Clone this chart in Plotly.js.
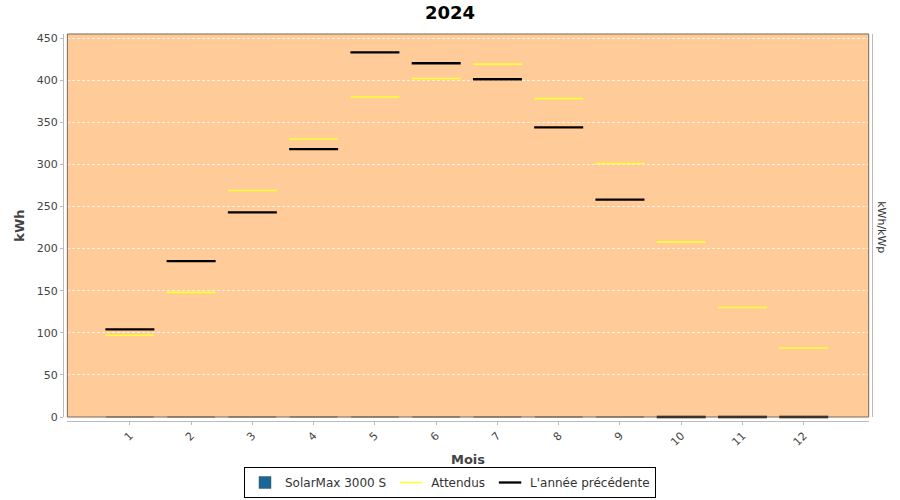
<!DOCTYPE html>
<html>
<head>
<meta charset="utf-8">
<script src="https://cdn.plot.ly/plotly-3.0.1.min.js"></script>
<style>html,body{margin:0;padding:0;background:#fff;}#chart{width:900px;height:500px;}</style>
</head>
<body>
<div id="chart"></div>
<script>
// ---- data ----
const months = [1, 2, 3, 4, 5, 6, 7, 8, 9, 10, 11, 12];
const monthLabels = ["1", "2", "3", "4", "5", "6", "7", "8", "9", "10", "11", "12"];
const solarMax = [0, 0, 0, 0, 0, 0, 0, 0, 0, 0, 0, 0];
const attendus = [97, 148, 269, 330, 380, 402, 419, 378, 301, 208, 130, 82];
const anneePrecedente = [104, 185, 243, 318, 433, 420, 401, 344, 258, 0, 0, 0];
const yTicks = [0, 50, 100, 150, 200, 250, 300, 350, 400, 450];

const font = "DejaVu Sans, sans-serif";

const traces = [
  {
    type: "bar", name: "SolarMax 3000 S", x: months, y: solarMax,
    marker: {color: "#1a6699", line: {color: "#555", width: 0.5}},
    width: 0.78, hoverinfo: "x+y"
  },
  {
    type: "scatter", mode: "markers", name: "SolarMax 3000 S", x: months, y: solarMax,
    showlegend: false, cliponaxis: false,
    marker: {symbol: "line-ew", size: 34, color: "#9a8c80", line: {color: "#9a8c80", width: 1.5}}
  },
  {
    type: "scatter", mode: "markers", name: "Attendus", x: months, y: attendus,
    cliponaxis: false,
    marker: {symbol: "line-ew", size: 35, color: "#ffff33", line: {color: "#ffff33", width: 1.6}}
  },
  {
    type: "scatter", mode: "markers", name: "L'année précédente", x: months, y: anneePrecedente,
    cliponaxis: false,
    marker: {symbol: "line-ew", size: 35, color: "#000000", line: {color: "#000000", width: 2.3}}
  }
];

const layout = {
  width: 900, height: 500,
  margin: {l: 63.3, r: 28, t: 34.3, b: 78.7, pad: 0},
  paper_bgcolor: "#ffffff",
  plot_bgcolor: "#ffcc99",
  font: {family: font, size: 11, color: "#444"},
  title: {text: "<b>2024</b>", font: {family: font, size: 18, color: "#000"}, x: 0.5, xref: "container", y: 0.974, yanchor: "middle"},
  showlegend: true,
  legend: {
    orientation: "h", xref: "container", yref: "container",
    x: 0.5, xanchor: "center", y: 0.004, yanchor: "bottom",
    bordercolor: "#000", borderwidth: 1, bgcolor: "#fff",
    font: {family: font, size: 12, color: "#333"},
    itemwidth: 30, traceorder: "normal"
  },
  bargap: 0.2,
  xaxis: {
    domain: [0.0054, 0.9959],
    anchor: "free", position: 0,
    range: [-0.02, 13.06],
    tickmode: "array", tickvals: months, ticktext: monthLabels,
    tickangle: -45,
    showline: true, linecolor: "#bbbbbb", linewidth: 1,
    ticks: "outside", ticklen: 3, tickcolor: "#bbbbbb",
    showgrid: false, zeroline: false, automargin: false,
    tickfont: {family: font, size: 11, color: "#444"},
    title: {text: "<b>Mois</b>", font: {family: font, size: 13, color: "#444"}, standoff: 10}
  },
  yaxis: {
    domain: [0.0103, 1],
    anchor: "free", position: 0,
    range: [0, 454.75],
    tickmode: "array", tickvals: yTicks,
    showline: true, linecolor: "#bbbbbb", linewidth: 1,
    ticks: "outside", ticklen: 3, tickcolor: "#bbbbbb",
    showgrid: true, gridcolor: "rgba(255,255,255,0.75)", gridwidth: 1, griddash: "3px,2px",
    zeroline: false, automargin: false,
    tickfont: {family: font, size: 11, color: "#444"},
    title: {text: "<b>kWh</b>", font: {family: font, size: 13, color: "#444"}, standoff: 8}
  },
  yaxis2: {
    overlaying: "y", side: "right", anchor: "free", position: 1,
    range: [0, 454.75], showticklabels: false, ticks: "", showgrid: false, zeroline: false,
    showline: true, linecolor: "#bbbbbb", linewidth: 1
  },
  shapes: [
    {type: "rect", xref: "x domain", yref: "y domain", x0: 0, x1: 1, y0: 0, y1: 1,
     line: {color: "#7a6656", width: 1}, fillcolor: "rgba(0,0,0,0)", layer: "above"}
  ],
  annotations: [
    {text: "kWh/kWp", xref: "paper", yref: "paper", x: 1.0115, y: 0.5, xanchor: "center", yanchor: "middle",
     textangle: 90, showarrow: false, font: {family: font, size: 11, color: "#333"}}
  ]
};

// invisible helper trace so the right-hand axis line is drawn
traces.push({type: "scatter", mode: "markers", x: [months[0]], y: [solarMax[0]], yaxis: "y2", showlegend: false, hoverinfo: "skip", marker: {opacity: 0}});

Plotly.newPlot("chart", traces, layout, {displayModeBar: false, staticPlot: true});
</script>
</body>
</html>
